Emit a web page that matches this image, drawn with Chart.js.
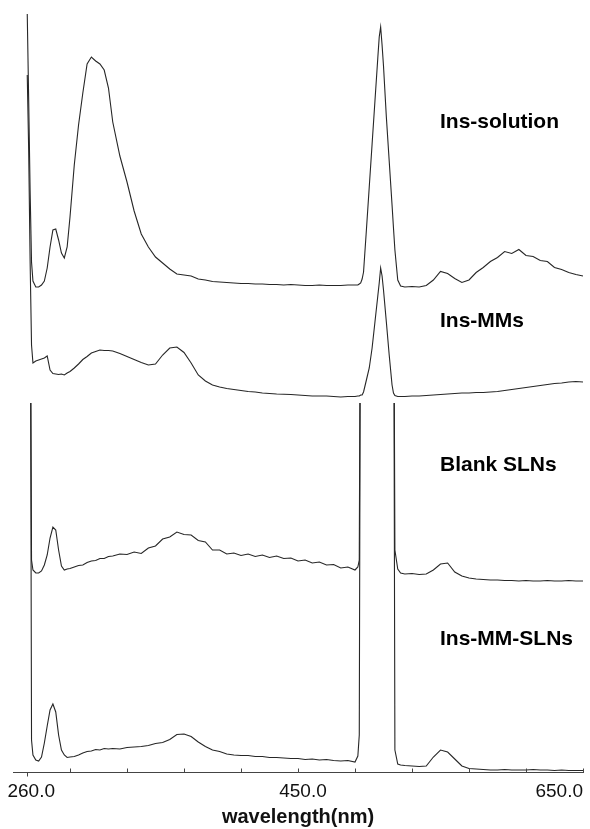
<!DOCTYPE html>
<html>
<head>
<meta charset="utf-8">
<script src="https://cdn.jsdelivr.net/npm/chart.js@4.4.1/dist/chart.umd.min.js"></script>
<style>
  html, body { margin: 0; padding: 0; background: #fff; }
  #wrap { width: 590px; height: 829px; }
</style>
</head>
<body>
<div id="wrap"><canvas id="chartCanvas"></canvas></div>
<script>
// wavelength grid (nm), shared by all four spectra
const wavelengths = [
  260, 261, 262, 263, 264,
  266, 268, 270, 272, 274, 276, 278, 280, 282, 284, 286, 288, 290,
  293, 296, 299, 302, 305, 308, 311, 314, 317,
  320, 325, 330, 335, 340, 345, 350, 355, 360, 365, 370, 375, 380, 385, 390, 395, 400,
  405, 410, 415, 420, 425, 430, 435, 440, 445, 450, 455, 460, 465, 470, 475, 480, 485, 490,
  492, 493, 494, 495, 496,
  498, 500, 502, 504, 506,
  507, 508, 509, 510,
  512, 514, 516,
  517, 518,
  520, 522,
  525, 530, 535, 540, 545, 550, 555, 560, 565, 570, 575, 580, 585, 590, 595, 600,
  605, 610, 615, 620, 625, 630, 635, 640, 645, 650
];

// intensities (a.u.), each relative to its own baseline
const insSolution = [
  276, 190, 100, 28, 9,
  3, 3, 5, 9, 22, 43, 60, 61, 50, 37, 32, 43, 73,
  125, 165, 197, 226, 233, 229, 226, 220, 202,
  168, 134, 108, 79, 56, 43, 33, 27, 21, 16, 15, 14, 11, 10, 8.5, 8, 7.5,
  7, 6.5, 6.5, 6, 6, 5.5, 5.5, 5, 5.5, 5, 4.5, 4.5, 5, 4.5, 4.5, 4.5, 5, 5,
  5, 6, 7, 11, 18,
  60, 103, 146, 189, 232,
  253, 263, 245, 224,
  173, 129, 85,
  62, 40,
  10, 4,
  3, 3.5, 3, 4.5, 10, 18.5, 16.5, 11.5, 7.5, 10, 17.5, 22.5, 28.5, 32.5, 38.5, 36.5,
  40.5, 34.5, 33.5, 29.5, 28.5, 22.5, 20.5, 17.5, 15.5, 14
];

const insMMs = [
  325, 250, 140, 55, 37,
  39, 40, 41, 42, 44, 30, 26.5, 26, 25.5, 26, 25, 27, 28.5,
  32, 36, 40.5, 43.5, 47, 48.5, 50, 49.5, 49.5,
  49, 46.5, 43.5, 40.5, 37.5, 35, 36, 45, 52, 53, 47.5, 37, 25, 19, 15, 13, 11.5,
  10.5, 9.5, 8.5, 8, 7, 6.5, 6, 5.7, 5.5, 5, 4.5, 4, 4, 4, 3.5, 3, 3.5, 3.5,
  4, 4, 5, 5, 8,
  20, 32, 52, 78, 104,
  117, 132, 124, 110,
  78, 45, 15,
  7, 4.5,
  3.5, 3.5,
  3.5, 4, 4, 4.5, 5, 5.5, 6, 6.5, 7, 7, 7.5, 7.5, 8, 8.5, 9.5, 10.5,
  11.5, 12.5, 13.5, 14.5, 15.5, 16.5, 17, 18, 18.5, 18
];

const blankSLNs = [
  400, 400, 400, 25, 15,
  12, 12, 14, 20, 30, 47, 58, 55, 35, 19, 15, 16, 16.5,
  18, 19.5, 20, 22.5, 24, 24.5, 26.5, 26.5, 28.5,
  29, 31, 30.5, 33, 31.5, 37, 39, 46, 48, 53, 50.5, 50, 44.5, 43, 35, 35, 31,
  32, 29.5, 31, 28.5, 30, 27.5, 29, 26.5, 27, 24, 25, 22, 23, 20, 20.5, 17, 18, 15,
  18, 25, 400, 400, 400,
  400, 400, 400, 400, 400,
  400, 400, 400, 400,
  400, 400, 400,
  400, 35,
  16, 12,
  11, 11.5, 10.5, 11, 15, 21, 22, 13, 9, 7, 6, 5.5, 5, 5, 4.5, 4.5,
  4, 4.5, 4, 4, 4.5, 4, 4, 4.5, 4, 4
];

const insMMSLNs = [
  600, 600, 600, 32, 17,
  12, 11, 15, 29, 46, 62, 68, 60, 37, 22, 17, 14.5, 15,
  15.5, 17, 19, 20.5, 21, 22.5, 22, 23.5, 23,
  23.5, 23, 24.5, 25, 25.5, 26.5, 28.5, 29.5, 32.5, 37.5, 38, 35.5, 30, 25.5, 22, 20.5, 18,
  17, 16.5, 16.5, 15.5, 15.5, 14.5, 14.5, 14, 13.5, 13.5, 12.5, 13, 12, 12.5, 11.5, 11, 11.5, 10,
  16, 37, 600, 600, 600,
  600, 600, 600, 600, 600,
  600, 600, 600, 600,
  600, 600, 600,
  600, 22,
  8, 7,
  6.5, 6, 5.5, 6, 15, 22, 20, 13, 6, 3.5, 3, 2.5, 2, 2, 2.5, 2,
  2, 2, 2.5, 2, 2, 1.5, 2, 1.5, 1.5, 1.5
];

const seriesNames = ["Ins-solution", "Ins-MMs", "Blank SLNs", "Ins-MM-SLNs"];
const seriesValues = [insSolution, insMMs, blankSLNs, insMMSLNs];
const baselineOffsets = [482, 372, 187, 0];

// axis
const axisMin = 250;
const axisMax = 650;
const tickMarks = [290, 330, 370, 410, 450, 490, 530, 570, 610, 650];
const scanStart = 260;
const tickValues = [260, 450, 650];
const tickLabels = ["260.0", "450.0", "650.0"];

const FONT = '"Liberation Sans", Arial, Helvetica, sans-serif';
const LINE = "#262626";

// clipping of off-scale peaks for the two lower traces (pixels below chart top)
const clipTops = [false, false, -403, -403];
const labelBaselines = [128, 327, 471, 645];

const datasets = seriesValues.map((vals, k) => ({
  label: seriesNames[k],
  data: wavelengths.map((w, i) => ({ x: w, y: vals[i] + baselineOffsets[k] })),
  borderColor: LINE,
  borderWidth: 1.1,
  pointRadius: 0,
  tension: 0,
  fill: false,
  clip: clipTops[k] === false ? 20 : { left: 20, top: clipTops[k], right: 20, bottom: 20 },
}));

const textPlugin = {
  id: "spectraText",
  afterDraw(chart) {
    const ctx = chart.ctx;
    const xs = chart.scales.x;
    const yAxis = Math.round(chart.chartArea.bottom) + 0.5;
    ctx.save();
    ctx.strokeStyle = "#444";
    ctx.lineWidth = 1;
    ctx.beginPath();
    tickMarks.forEach((v) => {
      const px = Math.round(xs.getPixelForValue(v)) + 0.5;
      ctx.moveTo(px, yAxis);
      ctx.lineTo(px, yAxis - 4);
    });
    const sp = Math.round(xs.getPixelForValue(scanStart)) + 0.5;
    ctx.moveTo(sp, yAxis);
    ctx.lineTo(sp, yAxis + 4);
    ctx.stroke();

    ctx.fillStyle = "#111";
    ctx.font = "19px " + FONT;
    ctx.textBaseline = "alphabetic";
    tickValues.forEach((v, i) => {
      const last = i === tickValues.length - 1;
      ctx.textAlign = last ? "right" : "center";
      const shift = i === 0 ? 4 : (last ? 0 : 5);
      ctx.fillText(tickLabels[i], xs.getPixelForValue(v) + shift, 797);
    });

    ctx.fillStyle = "#000";
    ctx.font = "bold 21px " + FONT;
    ctx.textAlign = "left";
    seriesNames.forEach((name, k) => {
      ctx.fillText(name, 440, labelBaselines[k]);
    });
    ctx.restore();
  },
};

new Chart(document.getElementById("chartCanvas"), {
  type: "line",
  data: { datasets: datasets },
  options: {
    responsive: true,
    maintainAspectRatio: false,
    animation: false,
    events: [],
    layout: { padding: { left: 13, right: 7, top: 0, bottom: 0 } },
    plugins: {
      legend: { display: false },
      tooltip: { enabled: false },
    },
    scales: {
      x: {
        type: "linear",
        min: axisMin,
        max: axisMax,
        grid: { display: false, drawTicks: false },
        border: { display: true, color: "#444", width: 1 },
        ticks: { display: false },
        title: {
          display: true,
          text: "wavelength(nm)",
          color: "#111",
          font: { family: FONT, size: 20, weight: "bold" },
          padding: { top: 33, bottom: 0 },
        },
      },
      y: {
        display: false,
        min: 0,
        max: 772,
      },
    },
  },
  plugins: [textPlugin],
});
</script>
</body>
</html>
